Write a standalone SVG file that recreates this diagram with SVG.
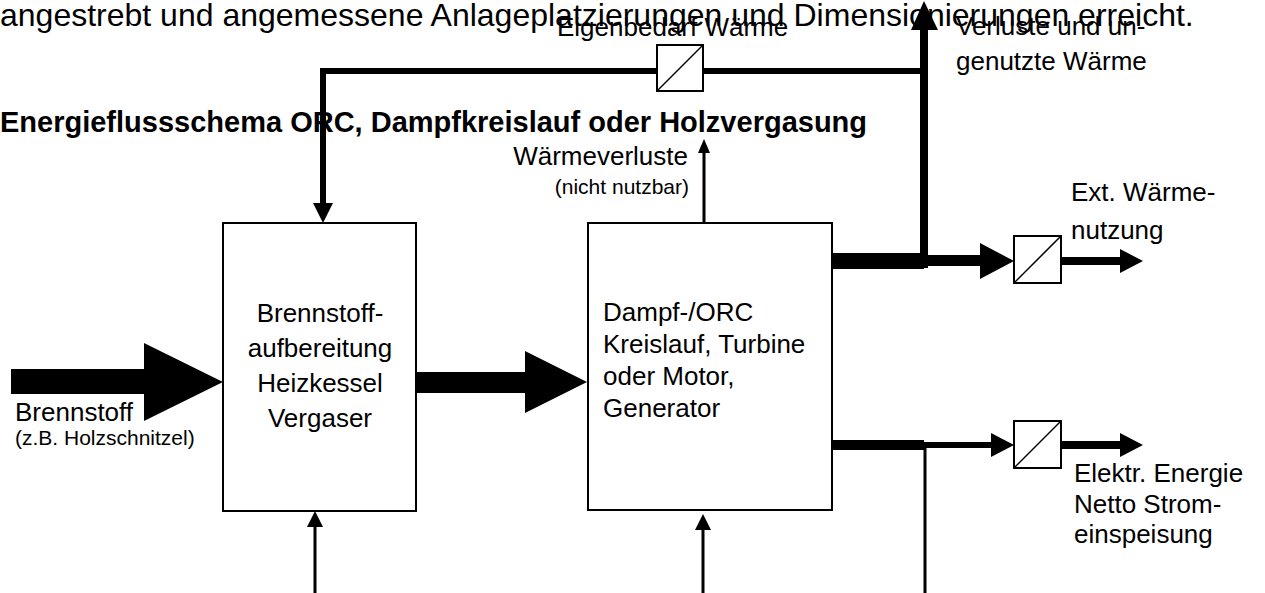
<svg xmlns="http://www.w3.org/2000/svg" width="1265" height="593" viewBox="0 0 1265 593">
<style>
text{font-family:"Liberation Sans",Arial,sans-serif;fill:#000}
.m{font-size:26px}
.s{font-size:21px}
.h{font-size:32px}
.b{font-size:29px;font-weight:bold}
.box{fill:#fff;stroke:#000;stroke-width:2}
.conv{fill:#fff;stroke:#000;stroke-width:2}
.diag{stroke:#000;stroke-width:1.5}
.thin{fill:none;stroke:#000;stroke-width:3}
.fb{fill:none;stroke:#000;stroke-width:6}
</style>
<rect width="1265" height="593" fill="#fff"/>
<g id="heading">
<text class="h" x="0" y="26">angestrebt und angemessene Anlageplatzierungen und Dimensionierungen erreicht.</text>
<text class="b" x="0" y="132">Energieflussschema ORC, Dampfkreislauf oder Holzvergasung</text>
</g>
<g id="connectors">
<path class="fb" d="M924 71H323V204"/>
<polygon points="313,203 333,203 323,223"/>
<rect x="920" y="28" width="8" height="240"/>
<polygon points="911,30 924,1 938,30"/>
<rect x="832" y="253" width="92" height="16"/>
<rect x="923" y="255" width="58" height="11"/>
<polygon points="980,243 1014,261 980,279"/>
<rect x="1061" y="257" width="60" height="8"/>
<polygon points="1120,249 1143,261 1120,273"/>
<rect x="832" y="440" width="92" height="10"/>
<rect x="923" y="442" width="69" height="6"/>
<polygon points="991,433 1014,445 991,457"/>
<rect x="1061" y="441" width="60" height="8"/>
<polygon points="1120,433 1143,445 1120,457"/>
<path class="thin" d="M925 447V593"/>
<polygon points="11,369 144,369 144,343 223,382 144,421 144,394 11,394"/>
<polygon points="416,372 525,372 525,351 587,382 525,413 525,393 416,393"/>
<path class="thin" d="M315 593V526"/>
<polygon points="307,527 323,527 315,511"/>
<path class="thin" d="M703 593V529"/>
<polygon points="695,530 711,530 703,514"/>
<path class="thin" d="M704 223V152"/>
<polygon points="698,153 710,153 704,139"/>
</g>
<g id="conv-eigenbedarf">
<rect class="conv" x="657" y="45" width="46" height="46"/>
<line class="diag" x1="657" y1="91" x2="703" y2="45"/>
</g>
<g id="conv-waerme">
<rect class="conv" x="1014" y="236" width="47" height="47"/>
<line class="diag" x1="1014" y1="283" x2="1061" y2="236"/>
</g>
<g id="conv-strom">
<rect class="conv" x="1014" y="421" width="47" height="47"/>
<line class="diag" x1="1014" y1="468" x2="1061" y2="421"/>
</g>
<g id="box-kessel">
<rect class="box" x="223" y="223" width="193" height="288"/>
<text class="m" x="320" y="322" text-anchor="middle">Brennstoff-</text>
<text class="m" x="320" y="357" text-anchor="middle">aufbereitung</text>
<text class="m" x="320" y="392" text-anchor="middle">Heizkessel</text>
<text class="m" x="320" y="427" text-anchor="middle">Vergaser</text>
</g>
<g id="box-orc">
<rect class="box" x="588" y="223" width="244" height="287"/>
<text class="m" x="603" y="321">Dampf-/ORC</text>
<text class="m" x="603" y="353">Kreislauf, Turbine</text>
<text class="m" x="603" y="385">oder Motor,</text>
<text class="m" x="603" y="417">Generator</text>
</g>
<g id="labels">
<text class="m" x="557" y="36">Eigenbedarf Wärme</text>
<text class="m" x="956" y="35">Verluste und un-</text>
<text class="m" x="956" y="70">genutzte Wärme</text>
<text class="m" x="688" y="165" text-anchor="end">Wärmeverluste</text>
<text class="s" x="689" y="194" text-anchor="end">(nicht nutzbar)</text>
<text class="m" x="1071" y="201">Ext. Wärme-</text>
<text class="m" x="1071" y="239">nutzung</text>
<text class="m" x="15" y="421">Brennstoff</text>
<text class="s" x="15" y="445">(z.B. Holzschnitzel)</text>
<text class="m" x="1074" y="482">Elektr. Energie</text>
<text class="m" x="1074" y="513">Netto Strom-</text>
<text class="m" x="1074" y="543">einspeisung</text>
</g>
</svg>
